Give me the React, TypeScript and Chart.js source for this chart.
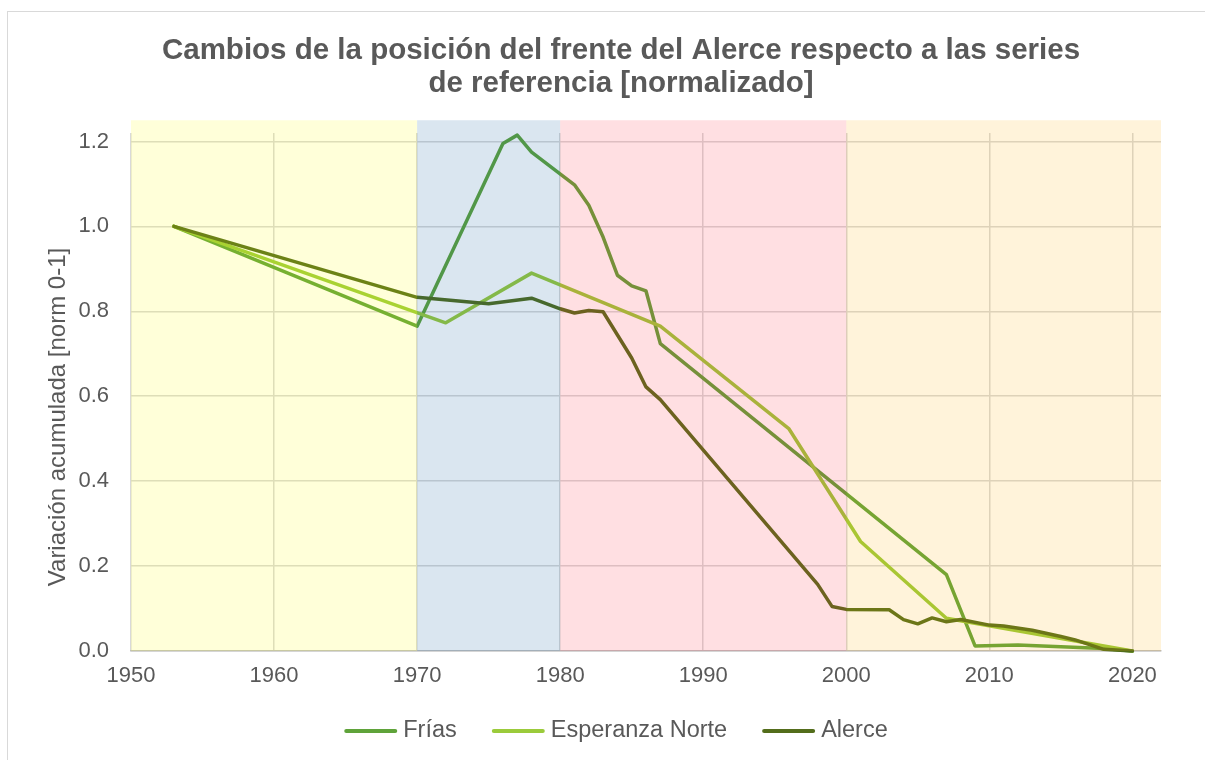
import React, { useEffect, useRef } from 'react';
import { Chart, registerables } from 'chart.js';

Chart.register(...registerables);

const FONT = '"Liberation Sans", Arial, sans-serif';
const TEXT_COLOR = '#595959';

const titleLines = [
  'Cambios de la posición del frente del Alerce respecto a las series',
  'de referencia [normalizado]',
];
const yAxisTitle = 'Variación acumulada [norm 0-1]';
const seriesLabels = ['Frías', 'Esperanza Norte', 'Alerce'];
const seriesColors = ['#5FA33A', '#9BCB3B', '#536D1B'];

const xTicks = [1950, 1960, 1970, 1980, 1990, 2000, 2010, 2020];
const yTicks = [0, 0.2, 0.4, 0.6, 0.8, 1.0, 1.2];

const friasYears = [1953, 1970, 1976, 1977, 1978, 1981, 1982, 1983, 1984, 1985, 1986, 1987, 2007, 2009, 2012, 2018, 2020];
const friasValues = [1.0, 0.765, 1.195, 1.215, 1.175, 1.098, 1.05, 0.975, 0.885, 0.86, 0.848, 0.724, 0.18, 0.012, 0.014, 0.006, 0.0];

const esperanzaYears = [1953, 1972, 1978, 1987, 1996, 2001, 2007, 2020];
const esperanzaValues = [1.0, 0.773, 0.89, 0.765, 0.523, 0.258, 0.077, 0.0];

const alerceYears = [1953, 1970, 1975, 1978, 1980, 1981, 1982, 1983, 1985, 1986, 1987, 1998, 1999, 2000, 2003, 2004, 2005, 2006, 2007, 2008, 2010, 2011, 2013, 2015, 2016, 2018, 2020];
const alerceValues = [1.0, 0.833, 0.818, 0.831, 0.806, 0.796, 0.802, 0.799, 0.69, 0.622, 0.592, 0.157, 0.105, 0.098, 0.097, 0.074, 0.064, 0.078, 0.069, 0.074, 0.061, 0.059, 0.049, 0.034, 0.026, 0.004, 0.0];

const regionStarts = [1950, 1970, 1980, 2000];
const regionEnds = [1970, 1980, 2000, 2022];
const regionTop = 1.25;
const regionColors = [
  'rgba(255,255,0,0.15)',
  'rgba(8,88,155,0.15)',
  'rgba(255,42,62,0.15)',
  'rgba(255,175,8,0.15)',
];

const regionsPlugin = {
  id: 'regions',
  afterDatasetsDraw(chart: any) {
    const { ctx, scales } = chart;
    const x = scales.x;
    const y = scales.y;
    ctx.save();
    regionStarts.forEach((s, i) => {
      const x0 = x.getPixelForValue(s);
      const x1 = x.getPixelForValue(regionEnds[i]);
      const y0 = y.getPixelForValue(regionTop);
      const y1 = y.getPixelForValue(0);
      ctx.fillStyle = regionColors[i];
      ctx.fillRect(x0, y0, x1 - x0, y1 - y0);
    });
    ctx.restore();
  },
};

const titlePlugin = {
  id: 'customTitle',
  afterDraw(chart: any) {
    const { ctx } = chart;
    ctx.save();
    ctx.font = `bold 29.5px ${FONT}`;
    ctx.fillStyle = TEXT_COLOR;
    ctx.textAlign = 'center';
    ctx.textBaseline = 'middle';
    titleLines.forEach((line, i) => {
      ctx.fillText(line, 621, 51 + i * 33);
    });
    // vertical axis title
    ctx.font = `24px ${FONT}`;
    ctx.translate(58, 417);
    ctx.rotate(-Math.PI / 2);
    ctx.fillText(yAxisTitle, 0, 0);
    ctx.restore();
  },
};

const legendPlugin = {
  id: 'customLegend',
  afterDraw(chart: any) {
    const { ctx } = chart;
    const ds = chart.data.datasets;
    ctx.save();
    ctx.font = `23.5px ${FONT}`;
    const lineLen = 53;
    const gapText = 6;
    const gapItem = 35;
    const widths = ds.map((d: any) => lineLen + gapText + ctx.measureText(d.label).width);
    const total = widths.reduce((a: number, b: number) => a + b, 0) + gapItem * (ds.length - 1);
    let x = 616 - total / 2;
    const y = 731;
    ds.forEach((d: any, i: number) => {
      ctx.strokeStyle = d.borderColor;
      ctx.lineWidth = 4;
      ctx.lineCap = 'round';
      ctx.beginPath();
      ctx.moveTo(x + 2, y);
      ctx.lineTo(x + lineLen - 2, y);
      ctx.stroke();
      ctx.fillStyle = TEXT_COLOR;
      ctx.textAlign = 'left';
      ctx.textBaseline = 'middle';
      ctx.fillText(d.label, x + lineLen + gapText, y);
      x += widths[i] + gapItem;
    });
    ctx.restore();
  },
};

function toPoints(xs: number[], ys: number[]) {
  return xs.map((x, i) => ({ x, y: ys[i] }));
}

export default function App() {
  const canvasRef = useRef<HTMLCanvasElement | null>(null);

  useEffect(() => {
    if (!canvasRef.current) return;
    const seriesData = [
      toPoints(friasYears, friasValues),
      toPoints(esperanzaYears, esperanzaValues),
      toPoints(alerceYears, alerceValues),
    ];
    const orders = [2, 1, 0];
    const chart = new Chart(canvasRef.current, {
      type: 'line',
      data: {
        datasets: seriesLabels.map((label, i) => ({
          label,
          data: seriesData[i],
          borderColor: seriesColors[i],
          backgroundColor: seriesColors[i],
          borderWidth: 3.5,
          pointRadius: 0,
          tension: 0,
          fill: false,
          clip: false,
          order: orders[i],
          borderJoinStyle: 'round',
          borderCapStyle: 'round',
        })) as any,
      },
      options: {
        responsive: false,
        animation: false,
        layout: { padding: { top: 133, left: 40, right: 44, bottom: 59 } },
        plugins: {
          legend: { display: false },
          title: { display: false },
          tooltip: { enabled: false },
        },
        scales: {
          x: {
            type: 'linear',
            min: 1950,
            max: 2022,
            afterBuildTicks: (s: any) => {
              s.ticks = xTicks.map((v) => ({ value: v }));
            },
            afterFit: (s: any) => {
              s.height = 50;
            },
            grid: { color: '#D9D9D9', lineWidth: 1.5, drawTicks: false },
            border: { color: '#BFBFBF', width: 1.5 },
            ticks: {
              font: { size: 22, family: FONT },
              color: TEXT_COLOR,
              padding: 12,
              maxRotation: 0,
              callback: (v: any) => String(v),
            },
          },
          y: {
            type: 'linear',
            min: 0,
            max: 1.22,
            afterBuildTicks: (s: any) => {
              s.ticks = yTicks.map((v) => ({ value: v }));
            },
            afterFit: (s: any) => {
              s.width = 91;
            },
            grid: { color: '#D9D9D9', lineWidth: 1.5, drawTicks: false },
            border: { display: false },
            ticks: {
              font: { size: 22, family: FONT },
              color: TEXT_COLOR,
              padding: 22,
              callback: (v: any) => Number(v).toFixed(1),
            },
            title: { display: false },
          },
        },
      } as any,
      plugins: [regionsPlugin, titlePlugin, legendPlugin],
    });
    return () => chart.destroy();
  }, []);

  return (
    <div style={{ position: 'absolute', left: 0, top: 0, width: 1205, height: 760, overflow: 'hidden', background: '#fff' }}>
      <div
        style={{
          position: 'absolute',
          left: 7,
          top: 11,
          width: 1300,
          height: 900,
          borderLeft: '1.5px solid #D9D9D9',
          borderTop: '1.5px solid #D9D9D9',
        }}
      />
      <canvas ref={canvasRef} width={1205} height={760} style={{ position: 'absolute', left: 0, top: 0 }} />
    </div>
  );
}
